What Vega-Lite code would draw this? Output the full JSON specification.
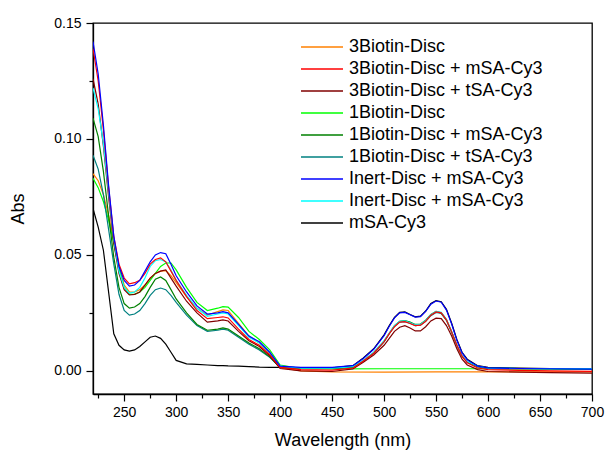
{
"$schema": "https://vega.github.io/schema/vega-lite/v6.json",
"width": 499, "height": 371,
"autosize": {"type": "none"},
"padding": {"left": 93, "top": 23, "right": 17, "bottom": 56},
"background": "white",
"config": {
 "font": "Liberation Sans",
 "view": {"stroke": "black", "strokeWidth": 1.3},
 "axis": {"domainColor": "black", "domainWidth": 1.3, "tickColor": "black", "tickWidth": 1.2, "labelColor": "black", "labelFont": "Liberation Sans", "labelFontSize": 14, "titleFont": "Liberation Sans", "titleFontSize": 18, "titleFontWeight": "normal", "titleColor": "black", "grid": false, "tickSize": 7}
},
"data": {"values": [
{"s":"mSA-Cy3","wl":220,"abs":0.070},{"s":"mSA-Cy3","wl":225,"abs":0.062},{"s":"mSA-Cy3","wl":230,"abs":0.052},{"s":"mSA-Cy3","wl":235,"abs":0.034},{"s":"mSA-Cy3","wl":240,"abs":0.016},{"s":"mSA-Cy3","wl":245,"abs":0.011},{"s":"mSA-Cy3","wl":250,"abs":0.009},{"s":"mSA-Cy3","wl":255,"abs":0.0085},{"s":"mSA-Cy3","wl":260,"abs":0.009},{"s":"mSA-Cy3","wl":265,"abs":0.0105},{"s":"mSA-Cy3","wl":270,"abs":0.0125},{"s":"mSA-Cy3","wl":275,"abs":0.0145},{"s":"mSA-Cy3","wl":280,"abs":0.015},{"s":"mSA-Cy3","wl":285,"abs":0.014},{"s":"mSA-Cy3","wl":290,"abs":0.0115},{"s":"mSA-Cy3","wl":295,"abs":0.008},{"s":"mSA-Cy3","wl":300,"abs":0.0045},{"s":"mSA-Cy3","wl":310,"abs":0.003},{"s":"mSA-Cy3","wl":320,"abs":0.0028},{"s":"mSA-Cy3","wl":330,"abs":0.0025},{"s":"mSA-Cy3","wl":340,"abs":0.0022},{"s":"mSA-Cy3","wl":345,"abs":0.0022},{"s":"mSA-Cy3","wl":350,"abs":0.0021},{"s":"mSA-Cy3","wl":360,"abs":0.002},{"s":"mSA-Cy3","wl":370,"abs":0.0018},{"s":"mSA-Cy3","wl":380,"abs":0.0016},{"s":"mSA-Cy3","wl":390,"abs":0.0015},{"s":"mSA-Cy3","wl":400,"abs":0.0015},{"s":"mSA-Cy3","wl":420,"abs":0.0013},{"s":"mSA-Cy3","wl":450,"abs":0.0013},{"s":"mSA-Cy3","wl":470,"abs":0.0022},{"s":"mSA-Cy3","wl":480,"abs":0.0055},{"s":"mSA-Cy3","wl":490,"abs":0.0095},{"s":"mSA-Cy3","wl":500,"abs":0.0155},{"s":"mSA-Cy3","wl":505,"abs":0.0195},{"s":"mSA-Cy3","wl":510,"abs":0.023},{"s":"mSA-Cy3","wl":515,"abs":0.0252},{"s":"mSA-Cy3","wl":520,"abs":0.0254},{"s":"mSA-Cy3","wl":525,"abs":0.0243},{"s":"mSA-Cy3","wl":530,"abs":0.0233},{"s":"mSA-Cy3","wl":535,"abs":0.0236},{"s":"mSA-Cy3","wl":540,"abs":0.0258},{"s":"mSA-Cy3","wl":545,"abs":0.029},{"s":"mSA-Cy3","wl":550,"abs":0.0303},{"s":"mSA-Cy3","wl":555,"abs":0.0298},{"s":"mSA-Cy3","wl":560,"abs":0.0265},{"s":"mSA-Cy3","wl":565,"abs":0.0205},{"s":"mSA-Cy3","wl":570,"abs":0.0135},{"s":"mSA-Cy3","wl":575,"abs":0.008},{"s":"mSA-Cy3","wl":580,"abs":0.005},{"s":"mSA-Cy3","wl":590,"abs":0.0022},{"s":"mSA-Cy3","wl":600,"abs":0.0015},{"s":"mSA-Cy3","wl":630,"abs":0.0012},{"s":"mSA-Cy3","wl":660,"abs":0.001},{"s":"mSA-Cy3","wl":700,"abs":0.0008},

{"s":"3Biotin-Disc","wl":220,"abs":0.085},{"s":"3Biotin-Disc","wl":225,"abs":0.082},{"s":"3Biotin-Disc","wl":230,"abs":0.076},{"s":"3Biotin-Disc","wl":235,"abs":0.067},{"s":"3Biotin-Disc","wl":240,"abs":0.056},{"s":"3Biotin-Disc","wl":245,"abs":0.045},{"s":"3Biotin-Disc","wl":250,"abs":0.037},{"s":"3Biotin-Disc","wl":255,"abs":0.034},{"s":"3Biotin-Disc","wl":260,"abs":0.034},{"s":"3Biotin-Disc","wl":265,"abs":0.035},{"s":"3Biotin-Disc","wl":270,"abs":0.037},{"s":"3Biotin-Disc","wl":275,"abs":0.040},{"s":"3Biotin-Disc","wl":280,"abs":0.042},{"s":"3Biotin-Disc","wl":285,"abs":0.043},{"s":"3Biotin-Disc","wl":290,"abs":0.0432},{"s":"3Biotin-Disc","wl":295,"abs":0.041},{"s":"3Biotin-Disc","wl":300,"abs":0.038},{"s":"3Biotin-Disc","wl":310,"abs":0.032},{"s":"3Biotin-Disc","wl":320,"abs":0.027},{"s":"3Biotin-Disc","wl":330,"abs":0.024},{"s":"3Biotin-Disc","wl":340,"abs":0.0255},{"s":"3Biotin-Disc","wl":345,"abs":0.0263},{"s":"3Biotin-Disc","wl":350,"abs":0.026},{"s":"3Biotin-Disc","wl":360,"abs":0.0205},{"s":"3Biotin-Disc","wl":370,"abs":0.015},{"s":"3Biotin-Disc","wl":380,"abs":0.012},{"s":"3Biotin-Disc","wl":390,"abs":0.0075},{"s":"3Biotin-Disc","wl":400,"abs":0.0015},{"s":"3Biotin-Disc","wl":420,"abs":0.0},{"s":"3Biotin-Disc","wl":450,"abs":-0.0005},{"s":"3Biotin-Disc","wl":500,"abs":-0.0006},{"s":"3Biotin-Disc","wl":550,"abs":-0.0005},{"s":"3Biotin-Disc","wl":600,"abs":-0.0005},{"s":"3Biotin-Disc","wl":650,"abs":-0.0004},{"s":"3Biotin-Disc","wl":700,"abs":-0.0005},

{"s":"1Biotin-Disc","wl":220,"abs":0.083},{"s":"1Biotin-Disc","wl":225,"abs":0.079},{"s":"1Biotin-Disc","wl":230,"abs":0.073},{"s":"1Biotin-Disc","wl":235,"abs":0.065},{"s":"1Biotin-Disc","wl":240,"abs":0.055},{"s":"1Biotin-Disc","wl":245,"abs":0.044},{"s":"1Biotin-Disc","wl":250,"abs":0.036},{"s":"1Biotin-Disc","wl":255,"abs":0.033},{"s":"1Biotin-Disc","wl":260,"abs":0.033},{"s":"1Biotin-Disc","wl":265,"abs":0.034},{"s":"1Biotin-Disc","wl":270,"abs":0.036},{"s":"1Biotin-Disc","wl":275,"abs":0.039},{"s":"1Biotin-Disc","wl":280,"abs":0.042},{"s":"1Biotin-Disc","wl":285,"abs":0.045},{"s":"1Biotin-Disc","wl":290,"abs":0.0465},{"s":"1Biotin-Disc","wl":295,"abs":0.0465},{"s":"1Biotin-Disc","wl":300,"abs":0.0435},{"s":"1Biotin-Disc","wl":310,"abs":0.036},{"s":"1Biotin-Disc","wl":320,"abs":0.0295},{"s":"1Biotin-Disc","wl":330,"abs":0.026},{"s":"1Biotin-Disc","wl":340,"abs":0.027},{"s":"1Biotin-Disc","wl":345,"abs":0.0277},{"s":"1Biotin-Disc","wl":350,"abs":0.0275},{"s":"1Biotin-Disc","wl":360,"abs":0.023},{"s":"1Biotin-Disc","wl":370,"abs":0.017},{"s":"1Biotin-Disc","wl":380,"abs":0.0135},{"s":"1Biotin-Disc","wl":390,"abs":0.009},{"s":"1Biotin-Disc","wl":400,"abs":0.0025},{"s":"1Biotin-Disc","wl":420,"abs":0.001},{"s":"1Biotin-Disc","wl":450,"abs":0.0008},{"s":"1Biotin-Disc","wl":500,"abs":0.0009},{"s":"1Biotin-Disc","wl":550,"abs":0.0009},{"s":"1Biotin-Disc","wl":600,"abs":0.0009},{"s":"1Biotin-Disc","wl":650,"abs":0.001},{"s":"1Biotin-Disc","wl":700,"abs":0.001},

{"s":"1Biotin-Disc + tSA-Cy3","wl":220,"abs":0.093},{"s":"1Biotin-Disc + tSA-Cy3","wl":225,"abs":0.087},{"s":"1Biotin-Disc + tSA-Cy3","wl":230,"abs":0.076},{"s":"1Biotin-Disc + tSA-Cy3","wl":235,"abs":0.061},{"s":"1Biotin-Disc + tSA-Cy3","wl":240,"abs":0.046},{"s":"1Biotin-Disc + tSA-Cy3","wl":245,"abs":0.033},{"s":"1Biotin-Disc + tSA-Cy3","wl":250,"abs":0.026},{"s":"1Biotin-Disc + tSA-Cy3","wl":255,"abs":0.024},{"s":"1Biotin-Disc + tSA-Cy3","wl":260,"abs":0.0245},{"s":"1Biotin-Disc + tSA-Cy3","wl":265,"abs":0.026},{"s":"1Biotin-Disc + tSA-Cy3","wl":270,"abs":0.029},{"s":"1Biotin-Disc + tSA-Cy3","wl":275,"abs":0.0325},{"s":"1Biotin-Disc + tSA-Cy3","wl":280,"abs":0.035},{"s":"1Biotin-Disc + tSA-Cy3","wl":285,"abs":0.0357},{"s":"1Biotin-Disc + tSA-Cy3","wl":290,"abs":0.035},{"s":"1Biotin-Disc + tSA-Cy3","wl":295,"abs":0.0325},{"s":"1Biotin-Disc + tSA-Cy3","wl":300,"abs":0.0295},{"s":"1Biotin-Disc + tSA-Cy3","wl":310,"abs":0.024},{"s":"1Biotin-Disc + tSA-Cy3","wl":320,"abs":0.0195},{"s":"1Biotin-Disc + tSA-Cy3","wl":330,"abs":0.017},{"s":"1Biotin-Disc + tSA-Cy3","wl":340,"abs":0.0175},{"s":"1Biotin-Disc + tSA-Cy3","wl":345,"abs":0.018},{"s":"1Biotin-Disc + tSA-Cy3","wl":350,"abs":0.0175},{"s":"1Biotin-Disc + tSA-Cy3","wl":360,"abs":0.0145},{"s":"1Biotin-Disc + tSA-Cy3","wl":370,"abs":0.0115},{"s":"1Biotin-Disc + tSA-Cy3","wl":380,"abs":0.009},{"s":"1Biotin-Disc + tSA-Cy3","wl":390,"abs":0.0058},{"s":"1Biotin-Disc + tSA-Cy3","wl":400,"abs":0.0015},{"s":"1Biotin-Disc + tSA-Cy3","wl":420,"abs":0.0012},{"s":"1Biotin-Disc + tSA-Cy3","wl":450,"abs":0.0012},{"s":"1Biotin-Disc + tSA-Cy3","wl":470,"abs":0.0016},{"s":"1Biotin-Disc + tSA-Cy3","wl":480,"abs":0.0043},{"s":"1Biotin-Disc + tSA-Cy3","wl":490,"abs":0.0076},{"s":"1Biotin-Disc + tSA-Cy3","wl":500,"abs":0.0125},{"s":"1Biotin-Disc + tSA-Cy3","wl":505,"abs":0.016},{"s":"1Biotin-Disc + tSA-Cy3","wl":510,"abs":0.0192},{"s":"1Biotin-Disc + tSA-Cy3","wl":515,"abs":0.021},{"s":"1Biotin-Disc + tSA-Cy3","wl":520,"abs":0.0212},{"s":"1Biotin-Disc + tSA-Cy3","wl":525,"abs":0.0205},{"s":"1Biotin-Disc + tSA-Cy3","wl":530,"abs":0.0195},{"s":"1Biotin-Disc + tSA-Cy3","wl":535,"abs":0.0197},{"s":"1Biotin-Disc + tSA-Cy3","wl":540,"abs":0.0213},{"s":"1Biotin-Disc + tSA-Cy3","wl":545,"abs":0.0238},{"s":"1Biotin-Disc + tSA-Cy3","wl":550,"abs":0.0252},{"s":"1Biotin-Disc + tSA-Cy3","wl":555,"abs":0.0247},{"s":"1Biotin-Disc + tSA-Cy3","wl":560,"abs":0.0218},{"s":"1Biotin-Disc + tSA-Cy3","wl":565,"abs":0.0166},{"s":"1Biotin-Disc + tSA-Cy3","wl":570,"abs":0.0108},{"s":"1Biotin-Disc + tSA-Cy3","wl":575,"abs":0.0063},{"s":"1Biotin-Disc + tSA-Cy3","wl":580,"abs":0.0038},{"s":"1Biotin-Disc + tSA-Cy3","wl":590,"abs":0.0018},{"s":"1Biotin-Disc + tSA-Cy3","wl":600,"abs":0.0012},{"s":"1Biotin-Disc + tSA-Cy3","wl":630,"abs":0.001},{"s":"1Biotin-Disc + tSA-Cy3","wl":660,"abs":0.001},{"s":"1Biotin-Disc + tSA-Cy3","wl":700,"abs":0.0008},

{"s":"1Biotin-Disc + mSA-Cy3","wl":220,"abs":0.109},{"s":"1Biotin-Disc + mSA-Cy3","wl":225,"abs":0.101},{"s":"1Biotin-Disc + mSA-Cy3","wl":230,"abs":0.086},{"s":"1Biotin-Disc + mSA-Cy3","wl":235,"abs":0.067},{"s":"1Biotin-Disc + mSA-Cy3","wl":240,"abs":0.049},{"s":"1Biotin-Disc + mSA-Cy3","wl":245,"abs":0.036},{"s":"1Biotin-Disc + mSA-Cy3","wl":250,"abs":0.029},{"s":"1Biotin-Disc + mSA-Cy3","wl":255,"abs":0.027},{"s":"1Biotin-Disc + mSA-Cy3","wl":260,"abs":0.0275},{"s":"1Biotin-Disc + mSA-Cy3","wl":265,"abs":0.029},{"s":"1Biotin-Disc + mSA-Cy3","wl":270,"abs":0.032},{"s":"1Biotin-Disc + mSA-Cy3","wl":275,"abs":0.036},{"s":"1Biotin-Disc + mSA-Cy3","wl":280,"abs":0.0395},{"s":"1Biotin-Disc + mSA-Cy3","wl":285,"abs":0.0405},{"s":"1Biotin-Disc + mSA-Cy3","wl":290,"abs":0.039},{"s":"1Biotin-Disc + mSA-Cy3","wl":295,"abs":0.035},{"s":"1Biotin-Disc + mSA-Cy3","wl":300,"abs":0.031},{"s":"1Biotin-Disc + mSA-Cy3","wl":310,"abs":0.025},{"s":"1Biotin-Disc + mSA-Cy3","wl":320,"abs":0.020},{"s":"1Biotin-Disc + mSA-Cy3","wl":330,"abs":0.0175},{"s":"1Biotin-Disc + mSA-Cy3","wl":340,"abs":0.018},{"s":"1Biotin-Disc + mSA-Cy3","wl":345,"abs":0.0185},{"s":"1Biotin-Disc + mSA-Cy3","wl":350,"abs":0.018},{"s":"1Biotin-Disc + mSA-Cy3","wl":360,"abs":0.015},{"s":"1Biotin-Disc + mSA-Cy3","wl":370,"abs":0.012},{"s":"1Biotin-Disc + mSA-Cy3","wl":380,"abs":0.0095},{"s":"1Biotin-Disc + mSA-Cy3","wl":390,"abs":0.006},{"s":"1Biotin-Disc + mSA-Cy3","wl":400,"abs":0.0015},{"s":"1Biotin-Disc + mSA-Cy3","wl":420,"abs":0.001},{"s":"1Biotin-Disc + mSA-Cy3","wl":450,"abs":0.001},{"s":"1Biotin-Disc + mSA-Cy3","wl":470,"abs":0.0015},{"s":"1Biotin-Disc + mSA-Cy3","wl":480,"abs":0.0043},{"s":"1Biotin-Disc + mSA-Cy3","wl":490,"abs":0.0078},{"s":"1Biotin-Disc + mSA-Cy3","wl":500,"abs":0.0128},{"s":"1Biotin-Disc + mSA-Cy3","wl":505,"abs":0.0162},{"s":"1Biotin-Disc + mSA-Cy3","wl":510,"abs":0.0195},{"s":"1Biotin-Disc + mSA-Cy3","wl":515,"abs":0.0213},{"s":"1Biotin-Disc + mSA-Cy3","wl":520,"abs":0.0216},{"s":"1Biotin-Disc + mSA-Cy3","wl":525,"abs":0.021},{"s":"1Biotin-Disc + mSA-Cy3","wl":530,"abs":0.020},{"s":"1Biotin-Disc + mSA-Cy3","wl":535,"abs":0.0202},{"s":"1Biotin-Disc + mSA-Cy3","wl":540,"abs":0.0218},{"s":"1Biotin-Disc + mSA-Cy3","wl":545,"abs":0.0243},{"s":"1Biotin-Disc + mSA-Cy3","wl":550,"abs":0.0256},{"s":"1Biotin-Disc + mSA-Cy3","wl":555,"abs":0.025},{"s":"1Biotin-Disc + mSA-Cy3","wl":560,"abs":0.022},{"s":"1Biotin-Disc + mSA-Cy3","wl":565,"abs":0.0168},{"s":"1Biotin-Disc + mSA-Cy3","wl":570,"abs":0.011},{"s":"1Biotin-Disc + mSA-Cy3","wl":575,"abs":0.0063},{"s":"1Biotin-Disc + mSA-Cy3","wl":580,"abs":0.0038},{"s":"1Biotin-Disc + mSA-Cy3","wl":590,"abs":0.0018},{"s":"1Biotin-Disc + mSA-Cy3","wl":600,"abs":0.001},{"s":"1Biotin-Disc + mSA-Cy3","wl":630,"abs":0.0008},{"s":"1Biotin-Disc + mSA-Cy3","wl":660,"abs":0.0007},{"s":"1Biotin-Disc + mSA-Cy3","wl":700,"abs":0.0006},

{"s":"3Biotin-Disc + tSA-Cy3","wl":220,"abs":0.126},{"s":"3Biotin-Disc + tSA-Cy3","wl":225,"abs":0.115},{"s":"3Biotin-Disc + tSA-Cy3","wl":230,"abs":0.097},{"s":"3Biotin-Disc + tSA-Cy3","wl":235,"abs":0.075},{"s":"3Biotin-Disc + tSA-Cy3","wl":240,"abs":0.055},{"s":"3Biotin-Disc + tSA-Cy3","wl":245,"abs":0.042},{"s":"3Biotin-Disc + tSA-Cy3","wl":250,"abs":0.035},{"s":"3Biotin-Disc + tSA-Cy3","wl":255,"abs":0.0327},{"s":"3Biotin-Disc + tSA-Cy3","wl":260,"abs":0.033},{"s":"3Biotin-Disc + tSA-Cy3","wl":265,"abs":0.034},{"s":"3Biotin-Disc + tSA-Cy3","wl":270,"abs":0.037},{"s":"3Biotin-Disc + tSA-Cy3","wl":275,"abs":0.040},{"s":"3Biotin-Disc + tSA-Cy3","wl":280,"abs":0.042},{"s":"3Biotin-Disc + tSA-Cy3","wl":285,"abs":0.043},{"s":"3Biotin-Disc + tSA-Cy3","wl":290,"abs":0.0435},{"s":"3Biotin-Disc + tSA-Cy3","wl":295,"abs":0.040},{"s":"3Biotin-Disc + tSA-Cy3","wl":300,"abs":0.0365},{"s":"3Biotin-Disc + tSA-Cy3","wl":310,"abs":0.030},{"s":"3Biotin-Disc + tSA-Cy3","wl":320,"abs":0.025},{"s":"3Biotin-Disc + tSA-Cy3","wl":330,"abs":0.021},{"s":"3Biotin-Disc + tSA-Cy3","wl":340,"abs":0.0215},{"s":"3Biotin-Disc + tSA-Cy3","wl":345,"abs":0.022},{"s":"3Biotin-Disc + tSA-Cy3","wl":350,"abs":0.0215},{"s":"3Biotin-Disc + tSA-Cy3","wl":360,"abs":0.017},{"s":"3Biotin-Disc + tSA-Cy3","wl":370,"abs":0.013},{"s":"3Biotin-Disc + tSA-Cy3","wl":380,"abs":0.0105},{"s":"3Biotin-Disc + tSA-Cy3","wl":390,"abs":0.0065},{"s":"3Biotin-Disc + tSA-Cy3","wl":400,"abs":0.001},{"s":"3Biotin-Disc + tSA-Cy3","wl":420,"abs":0.0},{"s":"3Biotin-Disc + tSA-Cy3","wl":450,"abs":-0.0003},{"s":"3Biotin-Disc + tSA-Cy3","wl":470,"abs":0.0008},{"s":"3Biotin-Disc + tSA-Cy3","wl":480,"abs":0.0037},{"s":"3Biotin-Disc + tSA-Cy3","wl":490,"abs":0.0068},{"s":"3Biotin-Disc + tSA-Cy3","wl":500,"abs":0.011},{"s":"3Biotin-Disc + tSA-Cy3","wl":505,"abs":0.014},{"s":"3Biotin-Disc + tSA-Cy3","wl":510,"abs":0.017},{"s":"3Biotin-Disc + tSA-Cy3","wl":515,"abs":0.0188},{"s":"3Biotin-Disc + tSA-Cy3","wl":520,"abs":0.0195},{"s":"3Biotin-Disc + tSA-Cy3","wl":525,"abs":0.0185},{"s":"3Biotin-Disc + tSA-Cy3","wl":530,"abs":0.0172},{"s":"3Biotin-Disc + tSA-Cy3","wl":535,"abs":0.0172},{"s":"3Biotin-Disc + tSA-Cy3","wl":540,"abs":0.019},{"s":"3Biotin-Disc + tSA-Cy3","wl":545,"abs":0.0215},{"s":"3Biotin-Disc + tSA-Cy3","wl":550,"abs":0.0227},{"s":"3Biotin-Disc + tSA-Cy3","wl":555,"abs":0.0225},{"s":"3Biotin-Disc + tSA-Cy3","wl":560,"abs":0.0195},{"s":"3Biotin-Disc + tSA-Cy3","wl":565,"abs":0.015},{"s":"3Biotin-Disc + tSA-Cy3","wl":570,"abs":0.0095},{"s":"3Biotin-Disc + tSA-Cy3","wl":575,"abs":0.005},{"s":"3Biotin-Disc + tSA-Cy3","wl":580,"abs":0.0025},{"s":"3Biotin-Disc + tSA-Cy3","wl":590,"abs":0.0005},{"s":"3Biotin-Disc + tSA-Cy3","wl":600,"abs":-0.0003},{"s":"3Biotin-Disc + tSA-Cy3","wl":630,"abs":-0.0006},{"s":"3Biotin-Disc + tSA-Cy3","wl":660,"abs":-0.0008},{"s":"3Biotin-Disc + tSA-Cy3","wl":700,"abs":-0.001},

{"s":"Inert-Disc + mSA-Cy3 #2","wl":220,"abs":0.122},{"s":"Inert-Disc + mSA-Cy3 #2","wl":225,"abs":0.113},{"s":"Inert-Disc + mSA-Cy3 #2","wl":230,"abs":0.098},{"s":"Inert-Disc + mSA-Cy3 #2","wl":235,"abs":0.077},{"s":"Inert-Disc + mSA-Cy3 #2","wl":240,"abs":0.057},{"s":"Inert-Disc + mSA-Cy3 #2","wl":245,"abs":0.043},{"s":"Inert-Disc + mSA-Cy3 #2","wl":250,"abs":0.036},{"s":"Inert-Disc + mSA-Cy3 #2","wl":255,"abs":0.0335},{"s":"Inert-Disc + mSA-Cy3 #2","wl":260,"abs":0.034},{"s":"Inert-Disc + mSA-Cy3 #2","wl":265,"abs":0.036},{"s":"Inert-Disc + mSA-Cy3 #2","wl":270,"abs":0.040},{"s":"Inert-Disc + mSA-Cy3 #2","wl":275,"abs":0.045},{"s":"Inert-Disc + mSA-Cy3 #2","wl":280,"abs":0.0475},{"s":"Inert-Disc + mSA-Cy3 #2","wl":285,"abs":0.048},{"s":"Inert-Disc + mSA-Cy3 #2","wl":290,"abs":0.047},{"s":"Inert-Disc + mSA-Cy3 #2","wl":295,"abs":0.0435},{"s":"Inert-Disc + mSA-Cy3 #2","wl":300,"abs":0.039},{"s":"Inert-Disc + mSA-Cy3 #2","wl":310,"abs":0.0325},{"s":"Inert-Disc + mSA-Cy3 #2","wl":320,"abs":0.027},{"s":"Inert-Disc + mSA-Cy3 #2","wl":330,"abs":0.0235},{"s":"Inert-Disc + mSA-Cy3 #2","wl":340,"abs":0.0245},{"s":"Inert-Disc + mSA-Cy3 #2","wl":345,"abs":0.025},{"s":"Inert-Disc + mSA-Cy3 #2","wl":350,"abs":0.0245},{"s":"Inert-Disc + mSA-Cy3 #2","wl":360,"abs":0.0195},{"s":"Inert-Disc + mSA-Cy3 #2","wl":370,"abs":0.0145},{"s":"Inert-Disc + mSA-Cy3 #2","wl":380,"abs":0.012},{"s":"Inert-Disc + mSA-Cy3 #2","wl":390,"abs":0.0078},{"s":"Inert-Disc + mSA-Cy3 #2","wl":400,"abs":0.002},{"s":"Inert-Disc + mSA-Cy3 #2","wl":420,"abs":0.0012},{"s":"Inert-Disc + mSA-Cy3 #2","wl":450,"abs":0.0012},{"s":"Inert-Disc + mSA-Cy3 #2","wl":470,"abs":0.0018},{"s":"Inert-Disc + mSA-Cy3 #2","wl":480,"abs":0.0045},{"s":"Inert-Disc + mSA-Cy3 #2","wl":490,"abs":0.008},{"s":"Inert-Disc + mSA-Cy3 #2","wl":500,"abs":0.013},{"s":"Inert-Disc + mSA-Cy3 #2","wl":505,"abs":0.0163},{"s":"Inert-Disc + mSA-Cy3 #2","wl":510,"abs":0.0195},{"s":"Inert-Disc + mSA-Cy3 #2","wl":515,"abs":0.0213},{"s":"Inert-Disc + mSA-Cy3 #2","wl":520,"abs":0.0215},{"s":"Inert-Disc + mSA-Cy3 #2","wl":525,"abs":0.0207},{"s":"Inert-Disc + mSA-Cy3 #2","wl":530,"abs":0.0198},{"s":"Inert-Disc + mSA-Cy3 #2","wl":535,"abs":0.020},{"s":"Inert-Disc + mSA-Cy3 #2","wl":540,"abs":0.0217},{"s":"Inert-Disc + mSA-Cy3 #2","wl":545,"abs":0.0242},{"s":"Inert-Disc + mSA-Cy3 #2","wl":550,"abs":0.0256},{"s":"Inert-Disc + mSA-Cy3 #2","wl":555,"abs":0.0252},{"s":"Inert-Disc + mSA-Cy3 #2","wl":560,"abs":0.0222},{"s":"Inert-Disc + mSA-Cy3 #2","wl":565,"abs":0.017},{"s":"Inert-Disc + mSA-Cy3 #2","wl":570,"abs":0.011},{"s":"Inert-Disc + mSA-Cy3 #2","wl":575,"abs":0.0065},{"s":"Inert-Disc + mSA-Cy3 #2","wl":580,"abs":0.004},{"s":"Inert-Disc + mSA-Cy3 #2","wl":590,"abs":0.002},{"s":"Inert-Disc + mSA-Cy3 #2","wl":600,"abs":0.0012},{"s":"Inert-Disc + mSA-Cy3 #2","wl":630,"abs":0.001},{"s":"Inert-Disc + mSA-Cy3 #2","wl":660,"abs":0.0009},{"s":"Inert-Disc + mSA-Cy3 #2","wl":700,"abs":0.0008},

{"s":"3Biotin-Disc + mSA-Cy3","wl":220,"abs":0.139},{"s":"3Biotin-Disc + mSA-Cy3","wl":225,"abs":0.125},{"s":"3Biotin-Disc + mSA-Cy3","wl":230,"abs":0.104},{"s":"3Biotin-Disc + mSA-Cy3","wl":235,"abs":0.079},{"s":"3Biotin-Disc + mSA-Cy3","wl":240,"abs":0.058},{"s":"3Biotin-Disc + mSA-Cy3","wl":245,"abs":0.046},{"s":"3Biotin-Disc + mSA-Cy3","wl":250,"abs":0.040},{"s":"3Biotin-Disc + mSA-Cy3","wl":255,"abs":0.0375},{"s":"3Biotin-Disc + mSA-Cy3","wl":260,"abs":0.038},{"s":"3Biotin-Disc + mSA-Cy3","wl":265,"abs":0.039},{"s":"3Biotin-Disc + mSA-Cy3","wl":270,"abs":0.042},{"s":"3Biotin-Disc + mSA-Cy3","wl":275,"abs":0.046},{"s":"3Biotin-Disc + mSA-Cy3","wl":280,"abs":0.048},{"s":"3Biotin-Disc + mSA-Cy3","wl":285,"abs":0.0487},{"s":"3Biotin-Disc + mSA-Cy3","wl":290,"abs":0.047},{"s":"3Biotin-Disc + mSA-Cy3","wl":295,"abs":0.043},{"s":"3Biotin-Disc + mSA-Cy3","wl":300,"abs":0.039},{"s":"3Biotin-Disc + mSA-Cy3","wl":310,"abs":0.032},{"s":"3Biotin-Disc + mSA-Cy3","wl":320,"abs":0.026},{"s":"3Biotin-Disc + mSA-Cy3","wl":330,"abs":0.0225},{"s":"3Biotin-Disc + mSA-Cy3","wl":340,"abs":0.023},{"s":"3Biotin-Disc + mSA-Cy3","wl":345,"abs":0.0233},{"s":"3Biotin-Disc + mSA-Cy3","wl":350,"abs":0.0228},{"s":"3Biotin-Disc + mSA-Cy3","wl":360,"abs":0.018},{"s":"3Biotin-Disc + mSA-Cy3","wl":370,"abs":0.0135},{"s":"3Biotin-Disc + mSA-Cy3","wl":380,"abs":0.011},{"s":"3Biotin-Disc + mSA-Cy3","wl":390,"abs":0.007},{"s":"3Biotin-Disc + mSA-Cy3","wl":400,"abs":0.0015},{"s":"3Biotin-Disc + mSA-Cy3","wl":420,"abs":0.0005},{"s":"3Biotin-Disc + mSA-Cy3","wl":450,"abs":0.0003},{"s":"3Biotin-Disc + mSA-Cy3","wl":470,"abs":0.0012},{"s":"3Biotin-Disc + mSA-Cy3","wl":480,"abs":0.0042},{"s":"3Biotin-Disc + mSA-Cy3","wl":490,"abs":0.0076},{"s":"3Biotin-Disc + mSA-Cy3","wl":500,"abs":0.0126},{"s":"3Biotin-Disc + mSA-Cy3","wl":505,"abs":0.016},{"s":"3Biotin-Disc + mSA-Cy3","wl":510,"abs":0.019},{"s":"3Biotin-Disc + mSA-Cy3","wl":515,"abs":0.021},{"s":"3Biotin-Disc + mSA-Cy3","wl":520,"abs":0.0212},{"s":"3Biotin-Disc + mSA-Cy3","wl":525,"abs":0.0204},{"s":"3Biotin-Disc + mSA-Cy3","wl":530,"abs":0.0195},{"s":"3Biotin-Disc + mSA-Cy3","wl":535,"abs":0.0197},{"s":"3Biotin-Disc + mSA-Cy3","wl":540,"abs":0.0214},{"s":"3Biotin-Disc + mSA-Cy3","wl":545,"abs":0.024},{"s":"3Biotin-Disc + mSA-Cy3","wl":550,"abs":0.0254},{"s":"3Biotin-Disc + mSA-Cy3","wl":555,"abs":0.025},{"s":"3Biotin-Disc + mSA-Cy3","wl":560,"abs":0.022},{"s":"3Biotin-Disc + mSA-Cy3","wl":565,"abs":0.0168},{"s":"3Biotin-Disc + mSA-Cy3","wl":570,"abs":0.011},{"s":"3Biotin-Disc + mSA-Cy3","wl":575,"abs":0.0063},{"s":"3Biotin-Disc + mSA-Cy3","wl":580,"abs":0.0035},{"s":"3Biotin-Disc + mSA-Cy3","wl":590,"abs":0.0012},{"s":"3Biotin-Disc + mSA-Cy3","wl":600,"abs":0.0005},{"s":"3Biotin-Disc + mSA-Cy3","wl":630,"abs":0.0002},{"s":"3Biotin-Disc + mSA-Cy3","wl":660,"abs":0.0},{"s":"3Biotin-Disc + mSA-Cy3","wl":700,"abs":-0.0002},

{"s":"Inert-Disc + mSA-Cy3","wl":220,"abs":0.142},{"s":"Inert-Disc + mSA-Cy3","wl":225,"abs":0.128},{"s":"Inert-Disc + mSA-Cy3","wl":230,"abs":0.106},{"s":"Inert-Disc + mSA-Cy3","wl":235,"abs":0.080},{"s":"Inert-Disc + mSA-Cy3","wl":240,"abs":0.058},{"s":"Inert-Disc + mSA-Cy3","wl":245,"abs":0.045},{"s":"Inert-Disc + mSA-Cy3","wl":250,"abs":0.039},{"s":"Inert-Disc + mSA-Cy3","wl":255,"abs":0.0365},{"s":"Inert-Disc + mSA-Cy3","wl":260,"abs":0.037},{"s":"Inert-Disc + mSA-Cy3","wl":265,"abs":0.039},{"s":"Inert-Disc + mSA-Cy3","wl":270,"abs":0.043},{"s":"Inert-Disc + mSA-Cy3","wl":275,"abs":0.047},{"s":"Inert-Disc + mSA-Cy3","wl":280,"abs":0.050},{"s":"Inert-Disc + mSA-Cy3","wl":285,"abs":0.051},{"s":"Inert-Disc + mSA-Cy3","wl":290,"abs":0.0505},{"s":"Inert-Disc + mSA-Cy3","wl":295,"abs":0.046},{"s":"Inert-Disc + mSA-Cy3","wl":300,"abs":0.041},{"s":"Inert-Disc + mSA-Cy3","wl":310,"abs":0.034},{"s":"Inert-Disc + mSA-Cy3","wl":320,"abs":0.028},{"s":"Inert-Disc + mSA-Cy3","wl":330,"abs":0.0245},{"s":"Inert-Disc + mSA-Cy3","wl":340,"abs":0.025},{"s":"Inert-Disc + mSA-Cy3","wl":345,"abs":0.0255},{"s":"Inert-Disc + mSA-Cy3","wl":350,"abs":0.025},{"s":"Inert-Disc + mSA-Cy3","wl":360,"abs":0.020},{"s":"Inert-Disc + mSA-Cy3","wl":370,"abs":0.015},{"s":"Inert-Disc + mSA-Cy3","wl":380,"abs":0.0125},{"s":"Inert-Disc + mSA-Cy3","wl":390,"abs":0.008},{"s":"Inert-Disc + mSA-Cy3","wl":400,"abs":0.002},{"s":"Inert-Disc + mSA-Cy3","wl":420,"abs":0.0015},{"s":"Inert-Disc + mSA-Cy3","wl":450,"abs":0.0015},{"s":"Inert-Disc + mSA-Cy3","wl":470,"abs":0.0022},{"s":"Inert-Disc + mSA-Cy3","wl":480,"abs":0.0053},{"s":"Inert-Disc + mSA-Cy3","wl":490,"abs":0.0093},{"s":"Inert-Disc + mSA-Cy3","wl":500,"abs":0.0152},{"s":"Inert-Disc + mSA-Cy3","wl":505,"abs":0.0192},{"s":"Inert-Disc + mSA-Cy3","wl":510,"abs":0.0228},{"s":"Inert-Disc + mSA-Cy3","wl":515,"abs":0.025},{"s":"Inert-Disc + mSA-Cy3","wl":520,"abs":0.0252},{"s":"Inert-Disc + mSA-Cy3","wl":525,"abs":0.0242},{"s":"Inert-Disc + mSA-Cy3","wl":530,"abs":0.0232},{"s":"Inert-Disc + mSA-Cy3","wl":535,"abs":0.0234},{"s":"Inert-Disc + mSA-Cy3","wl":540,"abs":0.0256},{"s":"Inert-Disc + mSA-Cy3","wl":545,"abs":0.0287},{"s":"Inert-Disc + mSA-Cy3","wl":550,"abs":0.0301},{"s":"Inert-Disc + mSA-Cy3","wl":555,"abs":0.0296},{"s":"Inert-Disc + mSA-Cy3","wl":560,"abs":0.0262},{"s":"Inert-Disc + mSA-Cy3","wl":565,"abs":0.0202},{"s":"Inert-Disc + mSA-Cy3","wl":570,"abs":0.0132},{"s":"Inert-Disc + mSA-Cy3","wl":575,"abs":0.0077},{"s":"Inert-Disc + mSA-Cy3","wl":580,"abs":0.0047},{"s":"Inert-Disc + mSA-Cy3","wl":590,"abs":0.002},{"s":"Inert-Disc + mSA-Cy3","wl":600,"abs":0.0013},{"s":"Inert-Disc + mSA-Cy3","wl":630,"abs":0.001},{"s":"Inert-Disc + mSA-Cy3","wl":660,"abs":0.0009},{"s":"Inert-Disc + mSA-Cy3","wl":700,"abs":0.0007}
]},
"layer": [
 {
  "mark": {"type": "line", "strokeWidth": 1.2, "clip": true},
  "encoding": {
   "x": {"field": "wl", "type": "quantitative", "scale": {"domain": [220, 700], "nice": false, "zero": false},
     "axis": {"orient": "bottom", "values": [250, 300, 350, 400, 450, 500, 550, 600, 650, 700], "title": "Wavelength (nm)", "labelPadding": 4, "titlePadding": 12, "labelFlush": false}},
   "y": {"field": "abs", "type": "quantitative", "scale": {"domain": [-0.01, 0.15], "nice": false, "zero": false},
     "axis": {"orient": "left", "values": [0, 0.05, 0.1, 0.15], "format": ".2f", "title": "Abs", "labelPadding": 5, "titlePadding": 26, "labelFlush": false}},
   "color": {"field": "s", "type": "nominal",
     "scale": {"domain": ["3Biotin-Disc", "3Biotin-Disc + mSA-Cy3", "3Biotin-Disc + tSA-Cy3", "1Biotin-Disc", "1Biotin-Disc + mSA-Cy3", "1Biotin-Disc + tSA-Cy3", "Inert-Disc + mSA-Cy3", "Inert-Disc + mSA-Cy3 #2", "mSA-Cy3"],
       "range": ["#FF8000", "#FF0000", "#800000", "#00FF00", "#008000", "#008080", "#0000FF", "#00FFFF", "#000000"]},
     "legend": {"title": null, "orient": "none", "legendX": 207, "legendY": 13, "symbolType": "stroke", "symbolSize": 1764, "symbolStrokeWidth": 1.5, "labelFontSize": 18, "labelFont": "Liberation Sans", "labelColor": "black", "labelOffset": 5, "clipHeight": 21.8, "rowPadding": 0, "padding": 0, "labelLimit": 400,
       "labelExpr": "replace(datum.label, ' #2', '')"}}
  }
 },
 {
  "mark": {"type": "point", "opacity": 0},
  "encoding": {
   "x": {"field": "wl", "type": "quantitative", "axis": {"orient": "bottom", "values": [225, 275, 325, 375, 425, 475, 525, 575, 625, 675], "labels": false, "title": null, "tickSize": 4, "domain": false}},
   "y": {"field": "abs", "type": "quantitative", "axis": {"orient": "left", "values": [0.025, 0.075, 0.125], "labels": false, "title": null, "tickSize": 4, "domain": false}}
  }
 }
],
"resolve": {"axis": {"x": "independent", "y": "independent"}}
}
